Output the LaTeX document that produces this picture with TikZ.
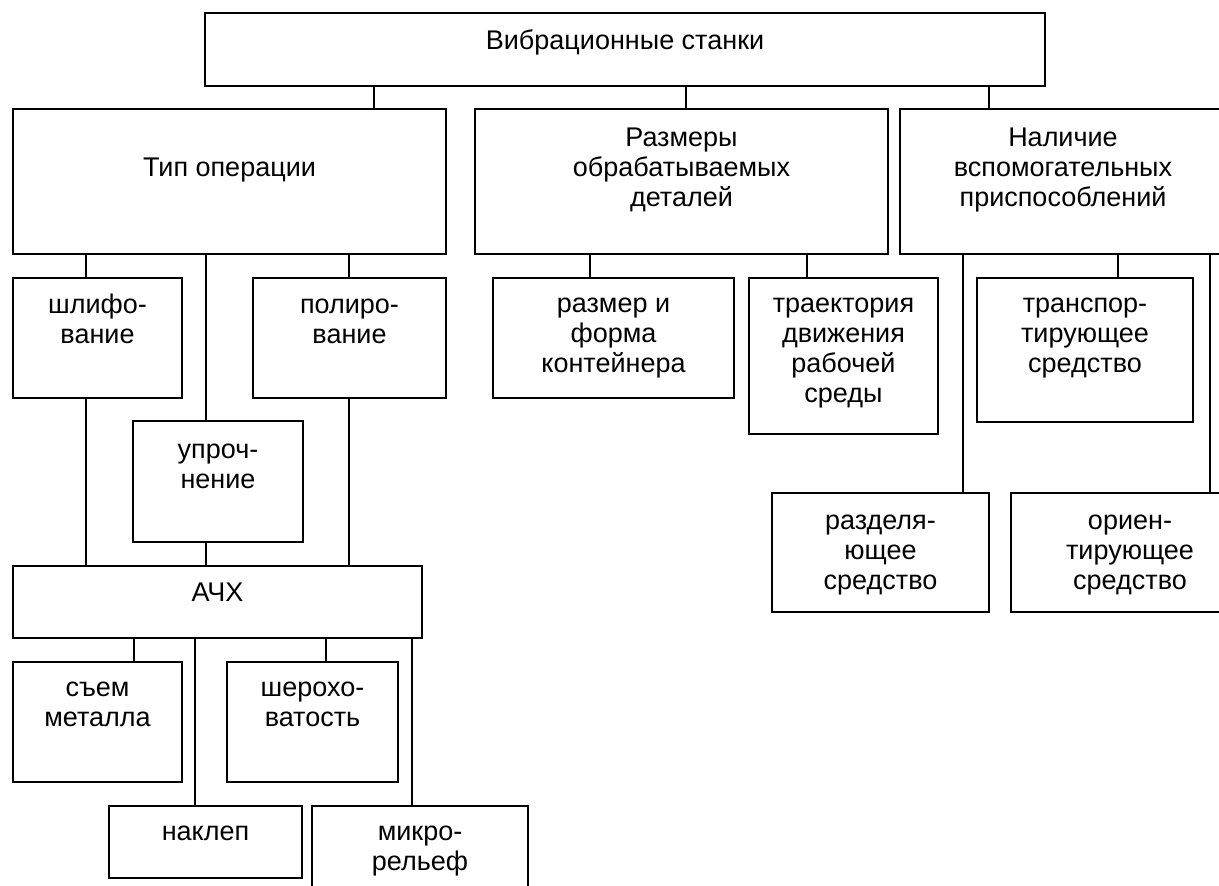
\documentclass[tikz,border=0pt]{standalone}
\usepackage{fontspec}
\setmainfont{Liberation Sans}
\newcommand\boxat[5]{\node[box, minimum width=#4, minimum height=#5] (#1) at (#2,#3) {};}
\newcommand\lab[4]{\node[txt] (#1) at (#2,#3) {\rule{0pt}{21pt}#4};}
\begin{document}
\begin{tikzpicture}[x=1pt,y=-1pt,
  box/.style={draw, line width=2pt, rectangle, inner sep=0pt, outer sep=0pt, anchor=north west},
  txt/.style={anchor=north, align=center, inner sep=0pt, outer sep=0pt, font=\fontsize{27}{30}\selectfont},
  conn/.style={line width=1.7pt}]
\useasboundingbox (0,0) rectangle (1219,886);
\clip (0,0) rectangle (1219,886);
% boxes
\boxat{root}{205}{13}{840}{73}
\boxat{tip}{13}{109}{433}{145}
\boxat{razm}{475}{109}{413}{145}
\boxat{nal}{900}{109}{326}{145}
\boxat{shlif}{13}{278}{169}{120}
\boxat{polir}{253}{278}{193}{120}
\boxat{uproch}{133}{421}{170}{121}
\boxat{ach}{13}{566}{409}{72}
\boxat{sem}{13}{662}{169}{120}
\boxat{sher}{227}{662}{171}{120}
\boxat{naklep}{109}{806}{193}{72}
\boxat{mikro}{312}{806}{216}{120}
\boxat{razmer}{493}{278}{241}{120}
\boxat{traekt}{749}{278}{189}{156}
\boxat{transp}{977}{278}{216}{144}
\boxat{razdel}{772}{493}{217}{119}
\boxat{orient}{1011}{493}{238}{119}
% texts (y = first baseline - 21)
\lab{troot}{625}{28}{Вибрационные станки}
\lab{ttip}{229.5}{155}{Тип операции}
\lab{trazm}{681.5}{125}{Размеры\\обрабатываемых\\деталей}
\lab{tnal}{1063}{125}{Наличие\\вспомогательных\\приспособлений}
\lab{tshlif}{97.5}{292}{шлифо-\\вание}
\lab{tpolir}{349.5}{292}{полиро-\\вание}
\lab{tuproch}{218}{437}{упроч-\\нение}
\lab{tach}{217.5}{580}{АЧХ}
\lab{tsem}{97.5}{675}{съем\\металла}
\lab{tsher}{312.5}{675}{шерохо-\\ватость}
\lab{tnaklep}{205.5}{819}{наклеп}
\lab{tmikro}{420}{819}{микро-\\рельеф}
\lab{trazmer}{613.5}{291}{размер и\\форма\\контейнера}
\lab{ttraekt}{843.5}{291}{траектория\\движения\\рабочей\\среды}
\lab{ttransp}{1085}{291}{транспор-\\тирующее\\средство}
\lab{trazdel}{880.5}{508}{разделя-\\ющее\\средство}
\lab{torient}{1130}{508}{ориен-\\тирующее\\средство}
% helper x positions
\foreach \xx in {86,134,195,206,326,349,374,412,590,686,807,963,989,1118,1210}
  \coordinate (x\xx) at (\xx,0);
% connectors
\draw[conn] (root.south -| x374) -- (tip.north -| x374);
\draw[conn] (root.south -| x686) -- (razm.north -| x686);
\draw[conn] (root.south -| x989) -- (nal.north -| x989);
\draw[conn] (tip.south -| x86) -- (shlif.north -| x86);
\draw[conn] (tip.south -| x206) -- (uproch.north -| x206);
\draw[conn] (tip.south -| x349) -- (polir.north -| x349);
\draw[conn] (shlif.south -| x86) -- (ach.north -| x86);
\draw[conn] (uproch.south -| x206) -- (ach.north -| x206);
\draw[conn] (polir.south -| x349) -- (ach.north -| x349);
\draw[conn] (ach.south -| x134) -- (sem.north -| x134);
\draw[conn] (ach.south -| x195) -- (naklep.north -| x195);
\draw[conn] (ach.south -| x326) -- (sher.north -| x326);
\draw[conn] (ach.south -| x412) -- (mikro.north -| x412);
\draw[conn] (razm.south -| x590) -- (razmer.north -| x590);
\draw[conn] (razm.south -| x807) -- (traekt.north -| x807);
\draw[conn] (nal.south -| x963) -- (razdel.north -| x963);
\draw[conn] (nal.south -| x1118) -- (transp.north -| x1118);
\draw[conn] (nal.south -| x1210) -- (orient.north -| x1210);
\end{tikzpicture}
\end{document}
